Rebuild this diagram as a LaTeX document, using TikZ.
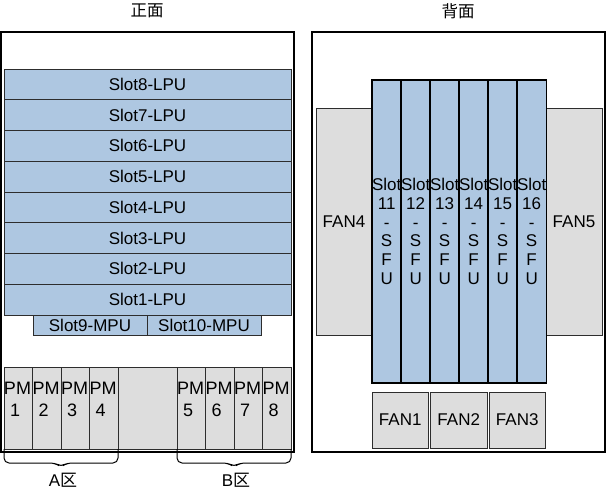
\documentclass[tikz,border=0pt]{standalone}
\usepackage{fontspec}
\setmainfont{Liberation Sans}
\newfontfamily\cjk{Noto Sans CJK SC}
\usetikzlibrary{calc}
\definecolor{slotblue}{RGB}{174,199,225}
\definecolor{pmgray}{RGB}{221,221,221}
\definecolor{edgegray}{RGB}{45,45,45}
\newcommand\rbox[7]{\node[#6, anchor=north west, minimum width={#4-#2}, minimum height={#5-#3}] (#1) at (#2,#3) {#7};}
\tikzset{
  frame/.style={draw=black, line width=1.3pt, inner sep=0, outer sep=0},
  slotbox/.style={draw=edgegray, line width=0.8pt, fill=slotblue, inner sep=0, outer sep=0, font=\fontsize{17}{18.8}\selectfont},
  sfubox/.style={slotbox, draw=black, line width=1.2pt, align=center},
  graybox/.style={draw=edgegray, line width=0.8pt, fill=pmgray, inner sep=0, outer sep=0, font=\fontsize{17}{18.8}\selectfont},
  txt/.style={inner sep=0, outer sep=0, font=\fontsize{17}{18.8}\selectfont},
  bracepath/.style={draw=black, line width=1pt, rounded corners=5pt}
}
\begin{document}
\begin{tikzpicture}[x=1pt, y=-1pt]
\useasboundingbox (0,0) rectangle (606,491);
% titles
\node[txt, font=\fontsize{16.5}{18.8}\selectfont\cjk] (ttlfront) at (147,11) {正面};
\node[txt, font=\fontsize{16.5}{18.8}\selectfont\cjk] (ttlback) at (458,11) {背面};
% front panel
\rbox{front}{1}{32}{294}{452}{frame}{}
\foreach \i in {1,...,8}{
  \pgfmathsetmacro\yt{69+(\i-1)*30.75}
  \pgfmathsetmacro\yb{69+\i*30.75}
  \pgfmathtruncatemacro\sn{9-\i}
  \rbox{lpu\sn}{4}{\yt}{291}{\yb}{slotbox}{Slot\sn-LPU}
}
\rbox{mpu9}{33}{315}{147}{335}{slotbox}{Slot9-MPU}
\rbox{mpu10}{147}{315}{261}{335}{slotbox}{Slot10-MPU}
\rbox{pmarea}{4}{367}{291}{449}{graybox}{}
\foreach \n/\x in {1/4,2/32.5,3/61,4/89.5,5/177,6/205.5,7/234,8/262.5}{
  \pgfmathsetmacro\xr{\x+28.5}
  \rbox{pm\n}{\x}{367}{\xr}{449}{graybox}{}
  \node[txt, anchor=west, align=left, font=\fontsize{18}{19}\selectfont] (pmt\n) at ($(pm\n.west)+(0,-9)$) {PM\\[3pt]\hspace{6pt}\n};
}
% braces
\draw[bracepath] (pm1.south west) -- ++(0,14) -- ($(pm1.south west)!0.5!(pm4.south east)+(-6,14)$) -- ++(6,4) -- ++(6,-4) -- ($(pm4.south east)+(0,14)$) -- (pm4.south east);
\draw[bracepath] (pm5.south west) -- ++(0,14) -- ($(pm5.south west)!0.5!(pm8.south east)+(-6,14)$) -- ++(6,4) -- ++(6,-4) -- ($(pm8.south east)+(0,14)$) -- (pm8.south east);
\node[txt] (zoneA) at (63,480) {A{\cjk 区}};
\node[txt] (zoneB) at (236,480) {B{\cjk 区}};
% back panel
\rbox{back}{312}{32}{605}{452}{frame}{}
\rbox{fan4}{316}{108}{372}{335}{graybox}{FAN4}
\rbox{fan5}{546}{108}{602}{335}{graybox}{FAN5}
\foreach \i in {0,...,5}{
  \pgfmathsetmacro\xl{372+29*\i}
  \pgfmathsetmacro\xr{372+29*(\i+1)}
  \pgfmathtruncatemacro\sn{11+\i}
  \rbox{sfu\sn}{\xl}{80}{\xr}{383}{sfubox}{Slot\\\sn\\-\\S\\F\\U}
}
\rbox{fan1}{372}{392}{428.5}{448}{graybox}{FAN1}
\rbox{fan2}{430.5}{392}{487}{448}{graybox}{FAN2}
\rbox{fan3}{489}{392}{545.5}{448}{graybox}{FAN3}
\end{tikzpicture}
\end{document}
